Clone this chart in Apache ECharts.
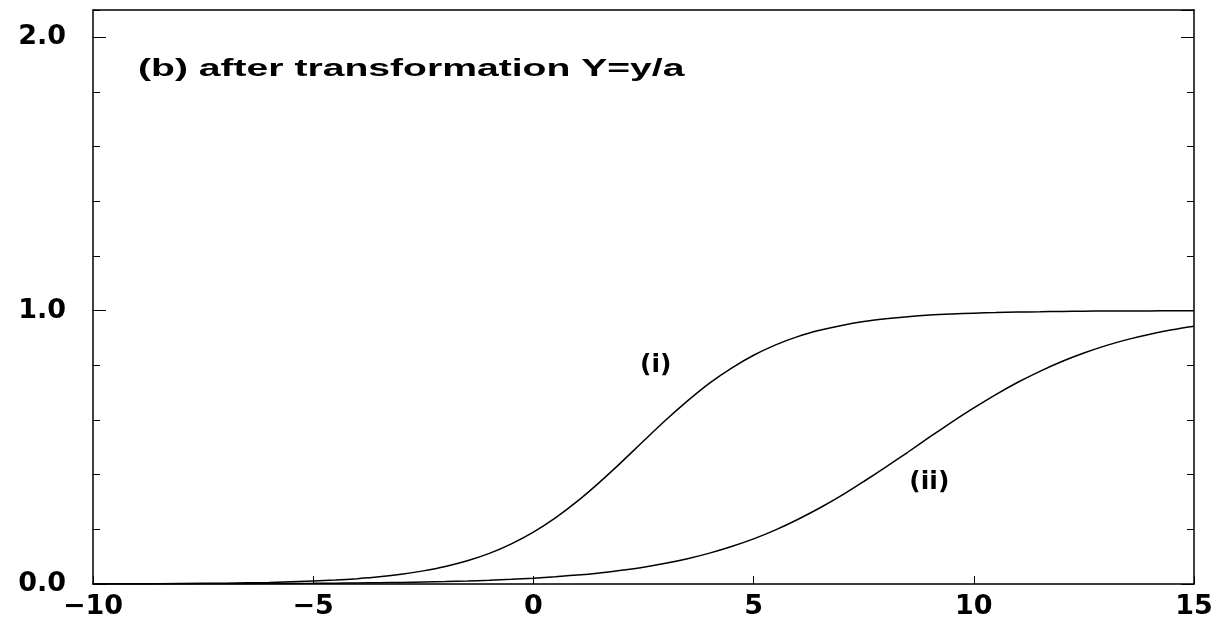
<!DOCTYPE html>
<html>
<head>
<meta charset="utf-8">
<title>after transformation Y=y/a</title>
<script src="https://cdn.jsdelivr.net/npm/echarts@6/dist/echarts.min.js"></script>
<style>
  html, body { margin: 0; padding: 0; background: #fff; }
  #chart { width: 1225px; height: 623px; }
</style>
</head>
<body>
<div id="chart"></div>
<script>
var xs = [-10, -9, -8, -7, -6, -5, -4.5, -4, -3.5, -3, -2.5, -2, -1.5, -1, -0.5,
  0, 0.5, 1, 1.5, 2, 2.5, 3, 3.5, 4, 4.5, 5, 5.5, 6, 6.5, 7, 7.5, 8, 8.5, 9, 9.5,
  10, 10.5, 11, 11.5, 12, 12.5, 13, 13.5, 14, 14.5, 15]

// curve (i)
var curveI = [0.0005, 0.0009, 0.0017, 0.0031, 0.0058, 0.0106, 0.0143, 0.0195, 0.0263, 0.0355, 0.048, 0.064, 0.085, 0.112, 0.147,
  0.19, 0.242, 0.303, 0.372, 0.446, 0.523, 0.599, 0.670, 0.735, 0.790, 0.837, 0.875, 0.905, 0.928, 0.946, 0.960, 0.970, 0.978, 0.984, 0.988,
  0.991, 0.993, 0.995, 0.996, 0.997, 0.998, 0.9986, 0.999, 0.9992, 0.9994, 0.9996]

// curve (ii)
var curveII = [0.0003, 0.0004, 0.0006, 0.0009, 0.0015, 0.0023, 0.0029, 0.0037, 0.0046, 0.0058, 0.0072, 0.0088, 0.011, 0.0137, 0.017,
  0.0212, 0.0266, 0.0326, 0.0404, 0.050, 0.0614, 0.0756, 0.0925, 0.113, 0.137, 0.165, 0.198, 0.236, 0.278, 0.324, 0.375, 0.428, 0.482, 0.538, 0.592,
  0.644, 0.693, 0.738, 0.778, 0.814, 0.845, 0.872, 0.895, 0.914, 0.930, 0.943]

var titleText = '(b) after transformation Y=y/a'
var labelI = { text: '(i)', at: [2.78, 0.80] }
var labelII = { text: '(ii)', at: [8.99, 0.37] }

function pairs(ys) {
  return xs.map(function (x, i) { return [x, ys[i]] })
}

var font = {
  fontFamily: 'DejaVu Sans',
  fontWeight: 'bold',
  fontSize: 27,
  color: '#000'
}

function curveLabel(lab) {
  return {
    symbol: 'rect',
    symbolSize: 1,
    itemStyle: { color: 'transparent' },
    label: Object.assign({ show: true, position: 'inside', formatter: lab.text }, font, { fontSize: 25 }),
    data: [{ coord: lab.at }]
  }
}

var tickStyle = { color: '#000', width: 1 }
var frameStyle = { color: '#000', width: 1.5 }

var chart = echarts.init(document.getElementById('chart'))
chart.setOption({
  animation: false,
  backgroundColor: '#fff',
  // the original lettering is stretched sideways, so the title is scaled in x
  graphic: [{
    type: 'text',
    x: 138,
    y: 58,
    scaleX: 1.7,
    style: {
      text: titleText,
      font: 'bold 23px "Liberation Sans"',
      fill: '#000'
    }
  }],
  grid: { left: 93, right: 31, top: 10, bottom: 39 },
  xAxis: [{
    type: 'value',
    min: -10,
    max: 15,
    interval: 5,
    axisLine: { onZero: false, lineStyle: frameStyle },
    axisTick: { inside: true, length: 8, lineStyle: tickStyle },
    axisLabel: Object.assign({
      margin: 9,
      formatter: function (v) { return v < 0 ? '\u2212' + (-v) : String(v) }
    }, font),
    splitLine: { show: false }
  }, {
    type: 'value',
    position: 'top',
    min: -10,
    max: 15,
    axisLine: { show: true, onZero: false, lineStyle: frameStyle },
    axisTick: { show: false },
    axisLabel: { show: false },
    splitLine: { show: false }
  }],
  yAxis: [{
    // left, major ticks + labels
    type: 'value',
    min: 0,
    max: 2.1,
    interval: 1,
    axisLine: { show: true, onZero: false, lineStyle: frameStyle },
    axisTick: { show: true, inside: true, length: 13, lineStyle: tickStyle },
    axisLabel: Object.assign({
      margin: 27,
      showMaxLabel: false,
      formatter: function (v) { return v.toFixed(1) }
    }, font),
    splitLine: { show: false }
  }, {
    // left, minor ticks
    type: 'value',
    position: 'left',
    min: 0,
    max: 2.1,
    interval: 0.2,
    axisLine: { show: false, onZero: false },
    axisTick: { show: true, inside: true, length: 7, lineStyle: tickStyle },
    axisLabel: { show: false },
    splitLine: { show: false }
  }, {
    // right, major ticks
    type: 'value',
    position: 'right',
    min: 0,
    max: 2.1,
    interval: 1,
    axisLine: { show: true, onZero: false, lineStyle: frameStyle },
    axisTick: { show: true, inside: true, length: 13, lineStyle: tickStyle },
    axisLabel: { show: false },
    splitLine: { show: false }
  }, {
    // right, minor ticks
    type: 'value',
    position: 'right',
    min: 0,
    max: 2.1,
    interval: 0.2,
    axisLine: { show: false, onZero: false },
    axisTick: { show: true, inside: true, length: 7, lineStyle: tickStyle },
    axisLabel: { show: false },
    splitLine: { show: false }
  }],
  series: [{
    name: '(i)',
    type: 'line',
    smooth: 0.3,
    showSymbol: false,
    lineStyle: { color: '#000', width: 1.5 },
    data: pairs(curveI),
    markPoint: curveLabel(labelI)
  }, {
    name: '(ii)',
    type: 'line',
    smooth: 0.3,
    showSymbol: false,
    lineStyle: { color: '#000', width: 1.5 },
    data: pairs(curveII),
    markPoint: curveLabel(labelII)
  }]
})
</script>
</body>
</html>
